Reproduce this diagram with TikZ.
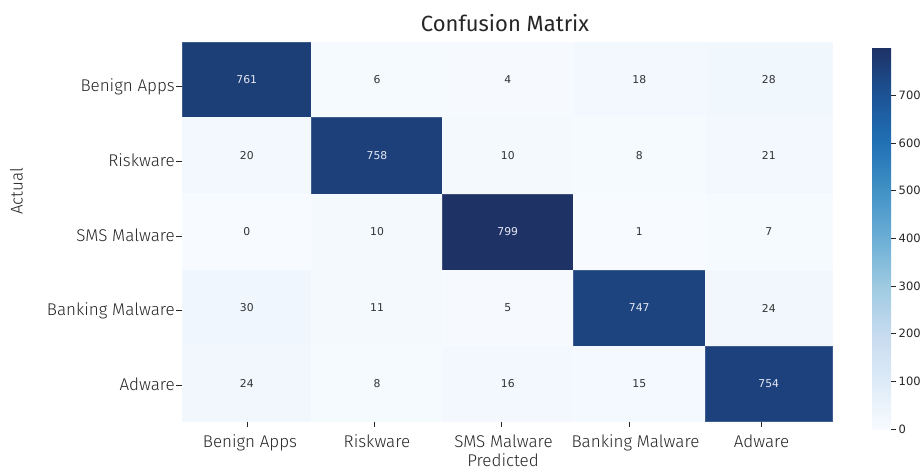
\documentclass[tikz,border=0pt]{standalone}
\usepackage{fontspec}
\newfontfamily\labfont{Fira Sans Light}
\newfontfamily\titfont{Fira Sans}
\newfontfamily\numfont{DejaVu Sans}
\definecolor{Bl0}{RGB}{247,251,255}
\definecolor{Bl1}{RGB}{222,235,247}
\definecolor{Bl2}{RGB}{198,219,239}
\definecolor{Bl3}{RGB}{158,202,225}
\definecolor{Bl4}{RGB}{107,174,214}
\definecolor{Bl5}{RGB}{66,146,198}
\definecolor{Bl6}{RGB}{33,113,181}
\definecolor{Bl7}{RGB}{28,84,150}
\definecolor{Bl8}{RGB}{30,50,102}
\definecolor{txtlight}{RGB}{228,232,242}
\definecolor{txtdark}{RGB}{51,51,51}
\definecolor{labgray}{RGB}{38,38,38}
\tikzset{
  numtxt/.style={font=\numfont\fontsize{10.8}{12}\selectfont, inner sep=0pt},
  labtxt/.style={font=\labfont\fontsize{17}{19}\selectfont, text=labgray, inner sep=0pt},
  cbtxt/.style={font=\numfont\fontsize{11.5}{13}\selectfont, text=labgray, inner sep=0pt, anchor=west},
  tickline/.style={draw=labgray, line width=0.8pt},
  cellbox/.style={draw=#1!85!white, line width=0.3pt}
}
\newcommand\mcell[8]{%
  \filldraw[fill=#6, cellbox=#6] (#1,#2) rectangle (#3,#4);
  \node[numtxt, text=#8] (#5) at ({(#1+#3)/2},{(#2+#4)/2}) {#7};}
\begin{document}
\begin{tikzpicture}[x=1pt,y=-1pt]
\useasboundingbox (0,0) rectangle (921,469);
\fill[white] (0,0) rectangle (921,469);
% row 1
\mcell{182}{42}{311.5}{117}{c11}{Bl8!61.6!Bl7}{761}{txtlight}
\mcell{311.5}{42}{442.5}{117}{c12}{Bl1!6!Bl0}{6}{txtdark}
\mcell{442.5}{42}{573}{117}{c13}{Bl1!4!Bl0}{4}{txtdark}
\mcell{573}{42}{705.5}{117}{c14}{Bl1!18!Bl0}{18}{txtdark}
\mcell{705.5}{42}{832}{117}{c15}{Bl1!28!Bl0}{28}{txtdark}
% row 2
\mcell{182}{117}{311.5}{194}{c21}{Bl1!20!Bl0}{20}{txtdark}
\mcell{311.5}{117}{442.5}{194}{c22}{Bl8!59.2!Bl7}{758}{txtlight}
\mcell{442.5}{117}{573}{194}{c23}{Bl1!10!Bl0}{10}{txtdark}
\mcell{573}{117}{705.5}{194}{c24}{Bl1!8!Bl0}{8}{txtdark}
\mcell{705.5}{117}{832}{194}{c25}{Bl1!21!Bl0}{21}{txtdark}
% row 3
\mcell{182}{194}{311.5}{270}{c31}{Bl0}{0}{txtdark}
\mcell{311.5}{194}{442.5}{270}{c32}{Bl1!10!Bl0}{10}{txtdark}
\mcell{442.5}{194}{573}{270}{c33}{Bl8}{799}{txtlight}
\mcell{573}{194}{705.5}{270}{c34}{Bl1!1!Bl0}{1}{txtdark}
\mcell{705.5}{194}{832}{270}{c35}{Bl1!7!Bl0}{7}{txtdark}
% row 4
\mcell{182}{270}{311.5}{346}{c41}{Bl1!30!Bl0}{30}{txtdark}
\mcell{311.5}{270}{442.5}{346}{c42}{Bl1!11!Bl0}{11}{txtdark}
\mcell{442.5}{270}{573}{346}{c43}{Bl1!5!Bl0}{5}{txtdark}
\mcell{573}{270}{705.5}{346}{c44}{Bl8!48.1!Bl7}{747}{txtlight}
\mcell{705.5}{270}{832}{346}{c45}{Bl1!24!Bl0}{24}{txtdark}
% row 5
\mcell{182}{346}{311.5}{421}{c51}{Bl1!24!Bl0}{24}{txtdark}
\mcell{311.5}{346}{442.5}{421}{c52}{Bl1!8!Bl0}{8}{txtdark}
\mcell{442.5}{346}{573}{421}{c53}{Bl1!16!Bl0}{16}{txtdark}
\mcell{573}{346}{705.5}{421}{c54}{Bl1!15!Bl0}{15}{txtdark}
\mcell{705.5}{346}{832}{421}{c55}{Bl8!55.1!Bl7}{754}{txtlight}
% title
\node[font=\titfont\fontsize{22}{25}\selectfont, text=labgray, inner sep=0pt, anchor=base] (title) at (505,31.7) {Confusion Matrix};
% y tick labels
\foreach \yy/\nm/\txt in {86/yl1/Benign Apps, 161/yl2/Riskware, 236/yl3/SMS Malware, 310/yl4/Banking Malware, 385/yl5/Adware}{
  \draw[tickline] (176,\yy) -- (182,\yy);
  \node[labtxt, anchor=base east] (\nm) at (175,\yy+5) {\txt};
}
% x tick labels
\foreach \xx/\lx/\nm/\txt in {247.7/250/xl1/Benign Apps, 374.5/377/xl2/Riskware, 501.7/503.5/xl3/SMS Malware, 629/635.5/xl4/Banking Malware, 761/761.5/xl5/Adware}{
  \draw[tickline] (\xx,421.5) -- (\xx,426.5);
  \node[labtxt, anchor=base] (\nm) at (\lx,447.5) {\txt};
}
\node[labtxt, anchor=base] (xlab) at (503,466) {Predicted};
\node[labtxt, rotate=90, anchor=center] (ylab) at (16.5,191.5) {Actual};
% colorbar
\shade[bottom color=Bl0, top color=Bl1] (872,429) rectangle (891,381.4);
\shade[bottom color=Bl1, top color=Bl2] (872,381.6) rectangle (891,333.8);
\shade[bottom color=Bl2, top color=Bl3] (872,334.0) rectangle (891,286.1);
\shade[bottom color=Bl3, top color=Bl4] (872,286.3) rectangle (891,238.5);
\shade[bottom color=Bl4, top color=Bl5] (872,238.7) rectangle (891,190.9);
\shade[bottom color=Bl5, top color=Bl6] (872,191.1) rectangle (891,143.3);
\shade[bottom color=Bl6, top color=Bl7] (872,143.5) rectangle (891,95.7);
\shade[bottom color=Bl7, top color=Bl8] (872,95.9) rectangle (891,48);
\foreach \v/\yy in {0/429,100/381.3,200/333.6,300/285.9,400/238.3,500/190.6,600/142.9,700/95.2}{
  \draw[tickline, line width=0.7pt] (891,\yy) -- (895.5,\yy);
  \node[cbtxt] (cb\v) at (898.5,\yy) {\v};
}
\end{tikzpicture}
\end{document}
